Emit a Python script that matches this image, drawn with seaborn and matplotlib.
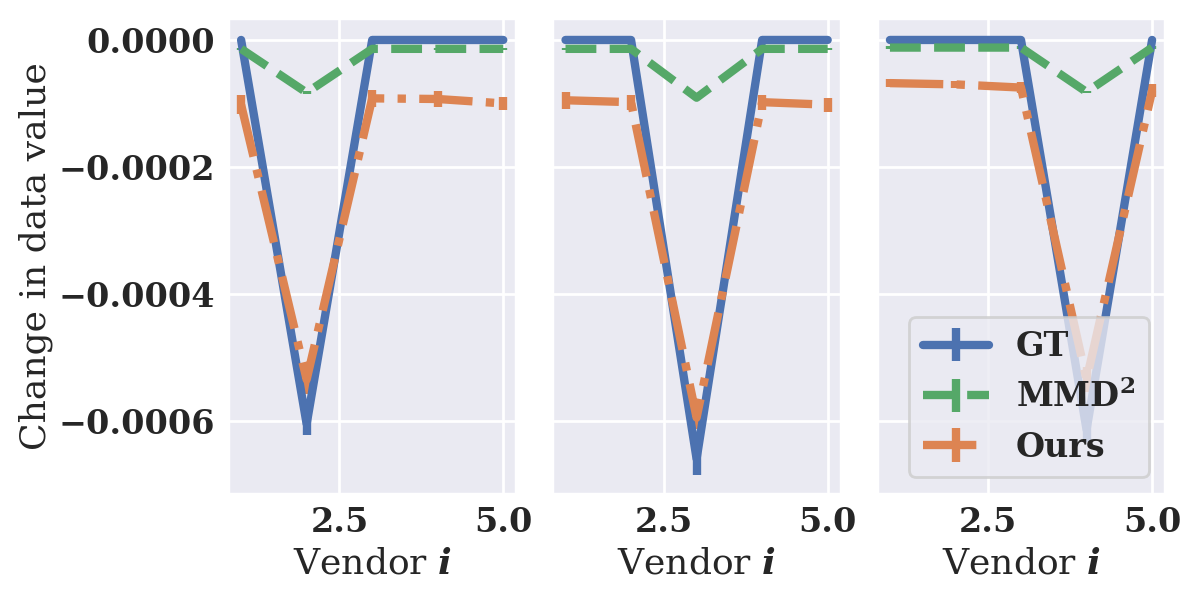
import numpy as np
import matplotlib
matplotlib.use("Agg")
import matplotlib.pyplot as plt
import seaborn as sns

# ---- data ----
vendors = [1, 2, 3, 4, 5]
series_names = ["GT", "MMD$^\\mathbf{2}$", "Ours"]

gt_vals = [
    [0.0, -0.000605, 0.0, 0.0, 0.0],
    [0.0, 0.0, -0.00066, 0.0, 0.0],
    [0.0, 0.0, 0.0, -0.000614, 0.0],
]
gt_err = [
    [0.0, 0.000017, 0.0, 0.0, 0.0],
    [0.0, 0.0, 0.000025, 0.0, 0.0],
    [0.0, 0.0, 0.0, 0.000019, 0.0],
]
mmd_vals = [
    [-0.000014, -0.000083, -0.000014, -0.000014, -0.000014],
    [-0.000014, -0.000014, -0.000091, -0.000014, -0.000014],
    [-0.000012, -0.000012, -0.000012, -0.000082, -0.000012],
]
mmd_err = [
    [0.000002, 0.000002, 0.000002, 0.000002, 0.000002],
    [0.000002, 0.000002, 0.000002, 0.000002, 0.000002],
    [0.000002, 0.000002, 0.000002, 0.000002, 0.000002],
]
ours_vals = [
    [-0.000102, -0.000535, -0.000092, -0.000093, -0.000100],
    [-0.000095, -0.000098, -0.000595, -0.000098, -0.000102],
    [-0.000068, -0.000070, -0.000075, -0.000535, -0.000080],
]
ours_err = [
    [0.000015, 0.000022, 0.000013, 0.000012, 0.000010],
    [0.000013, 0.000012, 0.000018, 0.000012, 0.000011],
    [0.000006, 0.000006, 0.000008, 0.000020, 0.000010],
]
x_ticks = [2.5, 5.0]
x_label = "Vendor $\\boldsymbol{i}$"
y_label = "Change in data value"

# ---- style ----
sns.set_theme(style="darkgrid", palette="deep")
plt.rcParams["font.family"] = ["DejaVu Serif"]
plt.rcParams["mathtext.fontset"] = "dejavuserif"
pal = sns.color_palette("deep")
colors = [pal[0], pal[2], pal[1]]
styles = ["-", "--", "-."]

fig, axes = plt.subplots(1, 3, figsize=(6, 3), dpi=200, sharey=True)
fig.subplots_adjust(left=0.19, right=0.971, top=0.97, bottom=0.177, wspace=0.125)

for k, ax in enumerate(axes):
    datasets = [(gt_vals[k], gt_err[k]), (mmd_vals[k], mmd_err[k]), (ours_vals[k], ours_err[k])]
    for j, (vals, errs) in enumerate(datasets):
        ax.errorbar(vendors, vals, yerr=errs, color=colors[j], linestyle=styles[j],
                    lw=3, elinewidth=3, label=series_names[j])
    ax.set_xticks(x_ticks)
    for lab in ax.get_xticklabels() + ax.get_yticklabels():
        lab.set_fontweight("bold")
        lab.set_fontsize(12)
    ax.tick_params(axis="y", length=0, pad=4.5)
    ax.tick_params(axis="x", length=0, pad=4.5)
    ax.set_xlabel(x_label, fontsize=13, labelpad=2.5)
    ax.set_xlim(0.8, 5.2)

axes[0].set_ylim(-0.000715, 0.0000346)
axes[0].set_ylabel(y_label, fontsize=13, labelpad=2)
leg = axes[2].legend(loc="lower right", prop={"weight": "bold", "size": 12})

fig.savefig("out.png", dpi=200)
